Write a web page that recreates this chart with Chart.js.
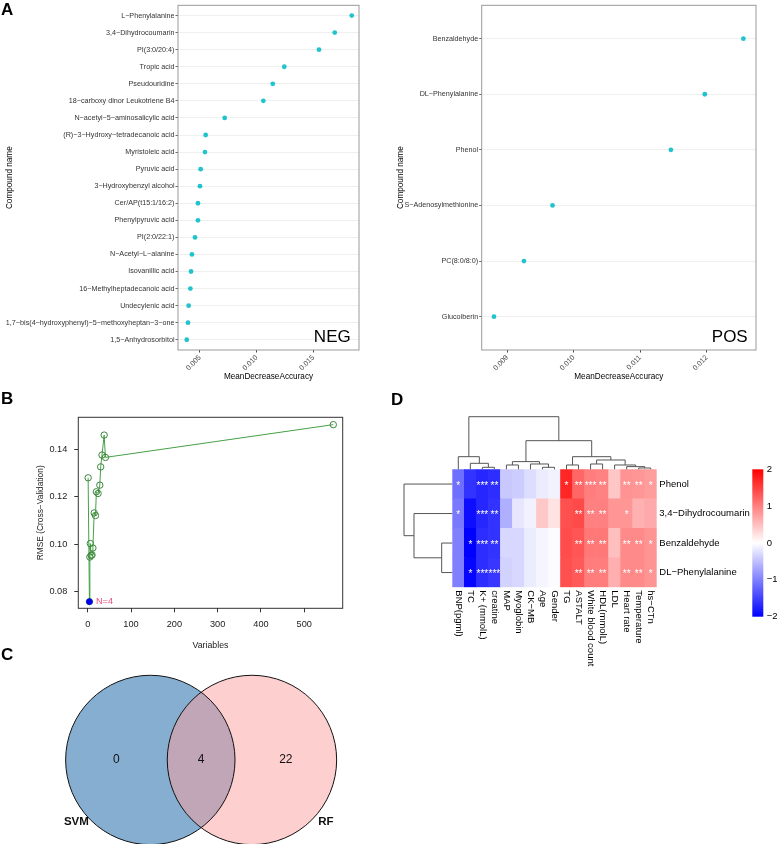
<!DOCTYPE html>
<html>
<head>
<meta charset="utf-8">
<script src="https://cdn.jsdelivr.net/npm/chart.js@4.4.1/dist/chart.umd.min.js"></script>
<style>
  body { margin: 0; background: #fff; }
  #page { position: relative; width: 777px; height: 844px; overflow: hidden;
          font-family: "Liberation Sans", Arial, Helvetica, sans-serif; }
  canvas { position: absolute; }
  .tag { position: absolute; font-weight: bold; font-size: 17px; line-height: 17px; }
</style>
</head>
<body>
<div id="page">
  <canvas id="negChart" width="390" height="390" style="left:0;top:0"></canvas>
  <canvas id="posChart" width="387" height="390" style="left:390px;top:0"></canvas>
  <canvas id="rfeChart" width="390" height="270" style="left:0;top:390px"></canvas>
  <canvas id="vennChart" width="390" height="184" style="left:0;top:660px"></canvas>
  <canvas id="heatChart" width="387" height="454" style="left:390px;top:390px"></canvas>
  <div class="tag" style="left:1px;top:1px">A</div>
  <div class="tag" style="left:1px;top:390px">B</div>
  <div class="tag" style="left:1px;top:646px">C</div>
  <div class="tag" style="left:391px;top:391px">D</div>
</div>
<script>
/* ---------- data ---------- */
const negNames = ["L−Phenylalanine", "3,4−Dihydrocoumarin", "PI(3:0/20:4)", "Tropic acid", "Pseudouridine",
  "18−carboxy dinor Leukotriene B4", "N−acetyl−5−aminosalicylic acid", "(R)−3−Hydroxy−tetradecanoic acid",
  "Myristoleic acid", "Pyruvic acid", "3−Hydroxybenzyl alcohol", "Cer/AP(t15:1/16:2)", "Phenylpyruvic acid",
  "PI(2:0/22:1)", "N−Acetyl−L−alanine", "Isovanillic acid", "16−Methylheptadecanoic acid", "Undecylenic acid",
  "1,7−bis(4−hydroxyphenyl)−5−methoxyheptan−3−one", "1,5−Anhydrosorbitol"];
const negMDA = [0.01839, 0.01689, 0.0155, 0.01244, 0.01142, 0.01059, 0.00718, 0.0055, 0.00544, 0.00506,
  0.0050, 0.00482, 0.00482, 0.00456, 0.00429, 0.00421, 0.00415, 0.0040, 0.00394, 0.00383];
const negTicks = [0.005, 0.010, 0.015];

const posNames = ["Benzaldehyde", "DL−Phenylalanine", "Phenol", "S−Adenosylmethionine", "PC(8:0/8:0)", "Glucoiberin"];
const posMDA = [0.01255, 0.01197, 0.01146, 0.00968, 0.00925, 0.0088];
const posTicks = [0.009, 0.010, 0.011, 0.012];

const rfeSizes = [1, 4, 5, 6, 8, 10, 12, 15, 18, 20, 24, 28, 30, 33, 38, 41, 567];
const rfeRMSE = [0.128, 0.0758, 0.0946, 0.1003, 0.0953, 0.0955, 0.0984, 0.1132, 0.1121, 0.1221, 0.1214,
  0.1249, 0.1326, 0.1376, 0.146, 0.1366, 0.1504];
const bestSize = 4;
const rfeXTicks = [0, 100, 200, 300, 400, 500];
const rfeYTicks = [0.08, 0.10, 0.12, 0.14];

const vennSets = ["SVM", "RF"];
const vennCounts = [0, 4, 22];          // SVM only, both, RF only
const vennCenters = [-0.6, 0.6];
const vennRadius = 1;

const hmRows = ["Phenol", "3,4−Dihydrocoumarin", "Benzaldehyde", "DL−Phenylalanine"];
const hmCols = ["BNP(pgml)", "TC", "K+ (mmolL)", "creatine", "MAP", "Myoglobin", "CK−MB", "Age", "Gender",
  "TG", "ASTALT", "White blood count", "HDL(mmolL)", "LDL", "Heart rate", "Temperature", "hs−CTn"];
const hmPhenol  = [-1.14, -1.6, -1.7, -1.65, -0.43, -0.4, -0.27, -0.15, -0.1, 1.7, 1.2, 1.02, 0.98, 0.45, 0.85, 0.82, 0.78];
const hmDihydro = [-1.05, -1.9, -1.7, -1.6, -0.63, -0.2, -0.1, 0.43, 0.23, 1.37, 1.42, 1.0, 1.0, 0.82, 0.82, 0.62, 0.67];
const hmBenz    = [-1.0, -2.0, -1.65, -1.6, -0.31, -0.31, -0.15, -0.08, -0.02, 1.4, 1.33, 1.06, 1.06, 0.5, 0.92, 0.92, 0.84];
const hmDLPhe   = [-1.0, -1.95, -1.65, -1.57, -0.35, -0.31, -0.15, -0.08, -0.02, 1.37, 1.3, 1.02, 1.02, 0.63, 0.92, 0.92, 0.84];
const starsPhenol  = ["*", "", "***", "**", "", "", "", "", "", "*", "**", "***", "**", "", "**", "**", "*"];
const starsDihydro = ["*", "", "***", "**", "", "", "", "", "", "", "**", "**", "**", "", "*", "", ""];
const starsBenz    = ["", "*", "***", "**", "", "", "", "", "", "", "**", "**", "**", "", "**", "**", "*"];
const starsDLPhe   = ["", "*", "***", "***", "", "", "", "", "", "", "**", "**", "**", "", "**", "**", "*"];
// hclust style merges: negative = leaf, positive = earlier merge (1-based); last value = relative height
const colMerges = [[-3, -4, 0.038], [-2, 1, 0.114], [-1, 2, 0.24], [-8, -9, 0.038], [-7, 4, 0.101],
  [-5, -6, 0.082], [6, 5, 0.146], [-10, -11, 0.082], [-12, -13, 0.101], [-16, -17, 0.025],
  [-15, 10, 0.051], [-14, 11, 0.082], [9, 12, 0.177], [8, 13, 0.24], [7, 14, 0.544], [3, 15, 1.0]];
const rowMerges = [[-3, -4, 0.22], [-2, 1, 0.793], [-1, 2, 1.0]];
const legendTicks = [2, 1, 0, -1, -2];

/* ---------- setup ---------- */
const FONT = '"Liberation Sans", Arial, Helvetica, sans-serif';
Chart.defaults.font.family = FONT;
Chart.defaults.color = "#000";
Chart.defaults.animation = false;
Chart.defaults.responsive = false;
Chart.defaults.plugins.legend.display = false;
Chart.defaults.plugins.tooltip.enabled = false;

// box round the plot area
Chart.register({
  id: "box",
  afterDraw(chart, args, opts) {
    if (!opts.color) return;
    const a = chart.chartArea, ctx = chart.ctx;
    ctx.save();
    ctx.strokeStyle = opts.color;
    ctx.lineWidth = opts.width || 1;
    ctx.strokeRect(a.left, a.top, a.right - a.left, a.bottom - a.top);
    ctx.restore();
  }
});

/* ---------- A: dot charts ---------- */
function dotChart(id, names, values, ticks, xMin, xMax, yWidth, padRight, yTitlePad, tag) {
  const n = names.length;
  return new Chart(document.getElementById(id), {
    type: "scatter",
    data: {
      datasets: [{
        data: values.map((v, i) => ({ x: v, y: n - i })),
        pointRadius: 2.4, pointBackgroundColor: "#21c4cc", pointBorderWidth: 0
      }]
    },
    options: {
      layout: { padding: { top: 4, right: padRight, bottom: 0, left: 0 } },
      plugins: { box: { color: "#9a9a9a", width: 1 } },
      scales: {
        x: {
          type: "linear", min: xMin, max: xMax,
          afterBuildTicks: s => { s.ticks = ticks.map(v => ({ value: v })); },
          afterFit: s => { s.height = 40; },
          grid: { drawOnChartArea: false, tickLength: 2.5, color: "#444" },
          border: { display: false },
          ticks: { autoSkip: false, minRotation: 45, maxRotation: 45, padding: 1,
                   font: { size: 7.2 }, color: "#4d4d4d", callback: v => v.toFixed(3) },
          title: { display: true, text: "MeanDecreaseAccuracy", font: { size: 8.2 },
                   padding: { top: 0, bottom: 8 } }
        },
        y: {
          type: "linear", min: 0.4, max: n + 0.6,
          afterBuildTicks: s => { s.ticks = names.map((_, i) => ({ value: n - i })); },
          afterFit: s => { s.width = yWidth; },
          grid: { color: "#ebebeb", lineWidth: 0.8, tickLength: 2.5, tickColor: "#444" },
          border: { display: false },
          ticks: { autoSkip: false, padding: 1, font: { size: 7.2 }, color: "#333",
                   callback: v => names[n - v] },
          title: { display: true, text: "Compound name", font: { size: 8.2 },
                   padding: { top: yTitlePad, bottom: 0 } }
        }
      }
    },
    plugins: [{
      id: "tagText",
      afterDraw(chart) {
        const a = chart.chartArea, ctx = chart.ctx;
        ctx.save();
        ctx.font = "17px " + FONT;
        ctx.fillStyle = "#000";
        ctx.textAlign = "right";
        ctx.textBaseline = "alphabetic";
        ctx.fillText(tag, a.right - 8.3, a.bottom - 8.3);
        ctx.restore();
      }
    }]
  });
}

dotChart("negChart", negNames, negMDA, negTicks, 0.00306, 0.01903, 178, 31, 5, "NEG");
dotChart("posChart", posNames, posMDA, posTicks, 0.008615, 0.01274, 91.7, 21, 6.3, "POS");

/* ---------- B: RFE curve ---------- */
const bestIdx = rfeSizes.indexOf(bestSize);
new Chart(document.getElementById("rfeChart"), {
  type: "scatter",
  data: {
    datasets: [
      { data: [{ x: bestSize, y: rfeRMSE[bestIdx] }], pointRadius: 2.8,
        pointBackgroundColor: "#0000ee", pointBorderColor: "#0000ee", pointBorderWidth: 1 },
      { data: rfeSizes.map((s, i) => ({ x: s, y: rfeRMSE[i] })), showLine: true,
        borderColor: "#46a046", borderWidth: 1, pointRadius: 3.2, pointBorderColor: "#3c873c",
        pointBackgroundColor: "rgba(0,0,0,0)", pointBorderWidth: 1 }
    ]
  },
  options: {
    layout: { padding: { top: 27.3, right: 47.3, bottom: 0, left: 0 } },
    plugins: { box: { color: "#333", width: 1 } },
    scales: {
      x: {
        type: "linear", min: -21.7, max: 588.7,
        afterBuildTicks: s => { s.ticks = rfeXTicks.map(v => ({ value: v })); },
        afterFit: s => { s.height = 51.7; },
        grid: { drawOnChartArea: false, tickLength: 4, color: "#333" },
        border: { display: false },
        ticks: { autoSkip: false, maxRotation: 0, padding: 7, font: { size: 9.2 }, color: "#222",
                 callback: v => String(v) },
        title: { display: true, text: "Variables", font: { size: 8.8 }, color: "#222",
                 padding: { top: 0, bottom: 8.9 } }
      },
      y: {
        type: "linear", min: 0.073, max: 0.1535,
        afterBuildTicks: s => { s.ticks = rfeYTicks.map(v => ({ value: v })); },
        afterFit: s => { s.width = 78.3; },
        grid: { drawOnChartArea: false, tickLength: 4, color: "#333" },
        border: { display: false },
        ticks: { autoSkip: false, padding: 7, font: { size: 9.2 }, color: "#222",
                 callback: v => v.toFixed(2) },
        title: { display: true, text: "RMSE (Cross−Validation)", font: { size: 8.4 }, color: "#222",
                 padding: { top: 35.9, bottom: 0 } }
      }
    }
  },
  plugins: [{
    id: "bestLabel",
    afterDraw(chart) {
      const { ctx, scales: { x, y } } = chart;
      ctx.save();
      ctx.font = "9.2px " + FONT;
      ctx.fillStyle = "#ec4f7c";
      ctx.textBaseline = "middle";
      ctx.fillText("N=" + bestSize, x.getPixelForValue(bestSize) + 6.5, y.getPixelForValue(rfeRMSE[bestIdx]));
      ctx.restore();
    }
  }]
});

/* ---------- C: Venn ---------- */
const vennFills = ["rgba(13,93,161,0.5)", "rgba(251,159,159,0.5)"];
const vennPx = c => { const s = c.chart.scales.x; return s.getPixelForValue(vennRadius) - s.getPixelForValue(0); };
const vennFillSets = vennSets.map((name, i) => ({
  data: [{ x: vennCenters[i], y: 0 }], pointRadius: vennPx, pointBorderWidth: 0,
  pointBackgroundColor: vennFills[i], clip: false
}));
const vennLineSets = vennSets.map((name, i) => ({
  data: [{ x: vennCenters[i], y: 0 }], pointRadius: vennPx, pointBorderWidth: 1,
  pointBorderColor: "#111", pointBackgroundColor: "rgba(0,0,0,0)", clip: false
}));
// dataset 0 is painted last: outlines on top, RF fill over SVM fill
new Chart(document.getElementById("vennChart"), {
  type: "scatter",
  data: { datasets: vennLineSets.concat(vennFillSets.slice().reverse()) },
  options: {
    layout: { padding: 0 },
    scales: {
      x: { type: "linear", display: false, min: -2.375, max: 2.23 },
      y: { type: "linear", display: false, min: -0.992, max: 1.18 }
    }
  },
  plugins: [{
    id: "vennText",
    afterDraw(chart) {
      const { ctx, scales: { x, y } } = chart;
      const lo = vennCenters.map(c => c - vennRadius), hi = vennCenters.map(c => c + vennRadius);
      const regionX = [(lo[0] + lo[1]) / 2, (lo[1] + hi[0]) / 2, (hi[0] + hi[1]) / 2];
      ctx.save();
      ctx.fillStyle = "#111";
      ctx.textAlign = "center";
      ctx.textBaseline = "middle";
      ctx.font = "12px " + FONT;
      vennCounts.forEach((v, i) => ctx.fillText(String(v), x.getPixelForValue(regionX[i]), y.getPixelForValue(0)));
      ctx.font = "bold 11.5px " + FONT;
      const ang = [220, -40].map(d => d * Math.PI / 180);
      vennSets.forEach((name, i) => {
        const px = vennCenters[i] + 1.14 * vennRadius * Math.cos(ang[i]);
        const py = 1.14 * vennRadius * Math.sin(ang[i]);
        ctx.fillText(name, x.getPixelForValue(px), y.getPixelForValue(py));
      });
      ctx.restore();
    }
  }]
});

/* ---------- D: heatmap ---------- */
function heatColor(v) {
  const t = Math.min(Math.abs(v) / 2, 1);
  const c = Math.round(255 * (1 - t));
  return v < 0 ? `rgb(${c},${c},255)` : `rgb(255,${c},${c})`;
}
function treeNodes(merges) {
  const pos = [];
  merges.forEach(([a, b]) => {
    const pa = a < 0 ? -a - 1 : pos[a - 1];
    const pb = b < 0 ? -b - 1 : pos[b - 1];
    pos.push((pa + pb) / 2);
  });
  return pos;
}
const hmValues = [hmPhenol, hmDihydro, hmBenz, hmDLPhe];
const hmStars = [starsPhenol, starsDihydro, starsBenz, starsDLPhe];
const nRows = hmRows.length;

new Chart(document.getElementById("heatChart"), {
  type: "bar",
  data: {
    labels: hmCols,
    datasets: hmRows.map((row, r) => ({
      label: row, data: hmCols.map(() => 1), backgroundColor: hmValues[r].map(heatColor),
      borderWidth: 0, barPercentage: 1, categoryPercentage: 1
    })).reverse()
  },
  options: {
    layout: { padding: { left: 62.3, top: 79.3, right: 120.3, bottom: 256.7 } },
    scales: {
      x: { stacked: true, display: false },
      y: { stacked: true, display: false, min: 0, max: nRows }
    }
  },
  plugins: [{
    id: "heatDecor",
    afterDraw(chart) {
      const { ctx, chartArea: a, scales: { x, y } } = chart;
      const rowY = p => y.getPixelForValue(nRows - p - 0.5);
      ctx.save();
      // stars
      ctx.fillStyle = "#fff";
      ctx.font = "10px " + FONT;
      ctx.textAlign = "center";
      ctx.textBaseline = "middle";
      hmStars.forEach((row, r) => row.forEach((s, c) => {
        if (s) ctx.fillText(s, x.getPixelForValue(c), rowY(r) + 2);
      }));
      // row labels
      ctx.fillStyle = "#000";
      ctx.font = "9.5px " + FONT;
      ctx.textAlign = "left";
      hmRows.forEach((name, r) => ctx.fillText(name, a.right + 2.6, rowY(r)));
      // column labels, reading downwards
      hmCols.forEach((name, c) => {
        ctx.save();
        ctx.translate(x.getPixelForValue(c), a.bottom + 3);
        ctx.rotate(Math.PI / 2);
        ctx.fillText(name, 0, 0);
        ctx.restore();
      });
      // dendrograms
      ctx.strokeStyle = "#555";
      ctx.lineWidth = 1;
      const drawTree = (merges, toPx) => {
        const pos = treeNodes(merges);
        merges.forEach(([ca, cb, h]) => {
          const kids = [ca, cb].map(k => k < 0 ? [-k - 1, 0] : [pos[k - 1], merges[k - 1][2]]);
          ctx.beginPath();
          let p = toPx(kids[0][0], kids[0][1]); ctx.moveTo(p[0], p[1]);
          p = toPx(kids[0][0], h); ctx.lineTo(p[0], p[1]);
          p = toPx(kids[1][0], h); ctx.lineTo(p[0], p[1]);
          p = toPx(kids[1][0], kids[1][1]); ctx.lineTo(p[0], p[1]);
          ctx.stroke();
        });
      };
      drawTree(colMerges, (pos, h) => [x.getPixelForValue(pos), a.top - h * 52.6]);
      drawTree(rowMerges, (pos, h) => [a.left - h * 48.3, rowY(pos)]);
      // colour key
      const kx = a.right + 95.6, kTop = a.top, unit = 36.85;
      const grad = ctx.createLinearGradient(0, kTop, 0, kTop + unit * 4);
      grad.addColorStop(0, heatColor(2));
      grad.addColorStop(0.5, heatColor(0));
      grad.addColorStop(1, heatColor(-2));
      ctx.fillStyle = grad;
      ctx.fillRect(kx, kTop, 11, unit * 4);
      ctx.fillStyle = "#000";
      ctx.font = "9.5px " + FONT;
      legendTicks.forEach(v => ctx.fillText(v < 0 ? "−" + (-v) : String(v), kx + 14.4, kTop + (2 - v) * unit));
      ctx.restore();
    }
  }]
});
</script>
</body>
</html>
